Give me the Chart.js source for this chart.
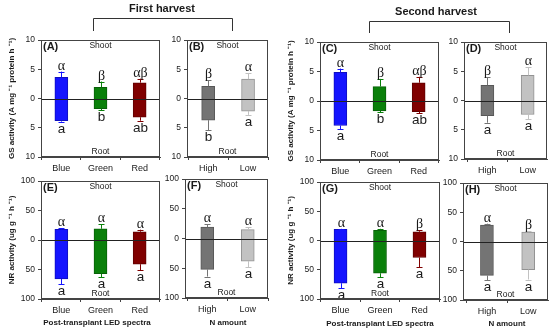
<!DOCTYPE html>
<html><head><meta charset="utf-8">
<script src="https://cdn.jsdelivr.net/npm/chart.js@4/dist/chart.umd.min.js"></script>
<style>
html,body{margin:0;padding:0;background:#fff;}
#wrap{position:relative;width:550px;height:331px;overflow:hidden;background:#fff;}
#wrap canvas{position:absolute;left:0;top:0;}
</style></head><body>
<div id="wrap"></div>
<script>
// ---------- data ----------
const ledCategories = ['Blue', 'Green', 'Red'];
const nCategories = ['High', 'Low'];
const ledColors = ['#1414ff', '#0a800a', '#800000'];
const nColors = ['#747474', '#c2c2c2'];

const gsTicks = [-10, -5, 0, 5, 10];
const nrTicks = [-100, -50, 0, 50, 100];

// (A) GS, first harvest, LED spectra
const gsFirstLedShoot = [3.6, 1.9, 2.7];
const gsFirstLedShootErr = [1.0, 1.0, 0.7];
const gsFirstLedRoot = [3.8, 1.75, 3.2];
const gsFirstLedRootErr = [0.15, 0.25, 0.6];
const gsFirstLedGreek = ['α', 'β', 'αβ'];
const gsFirstLedLatin = ['a', 'b', 'ab'];

// (B) GS, first harvest, N amount
const gsFirstNShoot = [2.1, 3.3];
const gsFirstNShootErr = [1.0, 1.0];
const gsFirstNRoot = [3.7, 2.15];
const gsFirstNRootErr = [1.7, 0.65];
const gsFirstNGreek = ['β', 'α'];
const gsFirstNLatin = ['b', 'a'];

// (C) GS, second harvest, LED spectra
const gsSecondLedShoot = [4.85, 2.45, 3.1];
const gsSecondLedShootErr = [0.65, 1.3, 1.0];
const gsSecondLedRoot = [4.15, 1.7, 1.8];
const gsSecondLedRootErr = [0.6, 0.2, 0.3];
const gsSecondLedGreek = ['α', 'β', 'αβ'];
const gsSecondLedLatin = ['a', 'b', 'ab'];

// (D) GS, second harvest, N amount
const gsSecondNShoot = [2.6, 4.3];
const gsSecondNShootErr = [1.4, 1.4];
const gsSecondNRoot = [2.6, 2.4];
const gsSecondNRootErr = [1.2, 0.8];
const gsSecondNGreek = ['β', 'α'];
const gsSecondNLatin = ['a', 'a'];

// (E) NR, first harvest, LED spectra
const nrFirstLedShoot = [18, 19, 14];
const nrFirstLedShootErr = [2, 8, 3.5];
const nrFirstLedRoot = [66, 57, 41];
const nrFirstLedRootErr = [9, 6, 10];
const nrFirstLedGreek = ['α', 'α', 'α'];
const nrFirstLedLatin = ['a', 'a', 'a'];

// (F) NR, first harvest, N amount
const nrFirstNShoot = [19, 15];
const nrFirstNShootErr = [5, 3.5];
const nrFirstNRoot = [52, 38];
const nrFirstNRootErr = [12, 10];
const nrFirstNGreek = ['α', 'α'];
const nrFirstNLatin = ['a', 'a'];

// (G) NR, second harvest, LED spectra
const nrSecondLedShoot = [19, 17.5, 15];
const nrSecondLedShootErr = [1, 2.5, 2.5];
const nrSecondLedRoot = [73, 56, 29];
const nrSecondLedRootErr = [9, 7, 17];
const nrSecondLedGreek = ['α', 'α', 'β'];
const nrSecondLedLatin = ['a', 'a', 'a'];

// (H) NR, second harvest, N amount
const nrSecondNShoot = [28, 16];
const nrSecondNShootErr = [2.5, 2];
const nrSecondNRoot = [58, 48];
const nrSecondNRootErr = [8, 17];
const nrSecondNGreek = ['α', 'β'];
const nrSecondNLatin = ['a', 'a'];

const gsTitle = 'GS activity (A mg \u207B\u00B9 protein h \u207B\u00B9)';
const nrTitle = 'NR activity (ug g \u207B\u00B9 h \u207B\u00B9)';
const ledAxisTitle = 'Post-transplant LED spectra';
const nAxisTitle = 'N amount';

// ---------- layout ----------
const SANS = '"Liberation Sans", Arial, Helvetica, sans-serif';
const SERIF = '"Liberation Serif", "Times New Roman", serif';

const panels = [
  {label:'(A)', cats:ledCategories, colors:ledColors, shoot:gsFirstLedShoot, shootErr:gsFirstLedShootErr, root:gsFirstLedRoot, rootErr:gsFirstLedRootErr, greek:gsFirstLedGreek, latin:gsFirstLedLatin, ticks:gsTicks,
   box:{l:41,r:160,t:40,b:157}, xr:[0.48,3.52], yTitle:gsTitle, yTitleX:12,
   header:{text:'First harvest', x:162, y:8.5, bl:93, br:232, bt:18, bb:31}},
  {label:'(B)', cats:nCategories, colors:nColors, shoot:gsFirstNShoot, shootErr:gsFirstNShootErr, root:gsFirstNRoot, rootErr:gsFirstNRootErr, greek:gsFirstNGreek, latin:gsFirstNLatin, ticks:gsTicks,
   box:{l:187,r:268,t:40,b:157}, xr:[0.47,2.5]},
  {label:'(C)', cats:ledCategories, colors:ledColors, shoot:gsSecondLedShoot, shootErr:gsSecondLedShootErr, root:gsSecondLedRoot, rootErr:gsSecondLedRootErr, greek:gsSecondLedGreek, latin:gsSecondLedLatin, ticks:gsTicks,
   box:{l:320,r:439,t:42,b:160}, xr:[0.48,3.52], yTitle:gsTitle, yTitleX:291,
   header:{text:'Second harvest', x:436, y:12, bl:369, br:509, bt:21, bb:33}},
  {label:'(D)', cats:nCategories, colors:nColors, shoot:gsSecondNShoot, shootErr:gsSecondNShootErr, root:gsSecondNRoot, rootErr:gsSecondNRootErr, greek:gsSecondNGreek, latin:gsSecondNLatin, ticks:gsTicks,
   box:{l:464,r:547,t:42,b:159}, xr:[0.42,2.48]},
  {label:'(E)', cats:ledCategories, colors:ledColors, shoot:nrFirstLedShoot, shootErr:nrFirstLedShootErr, root:nrFirstLedRoot, rootErr:nrFirstLedRootErr, greek:nrFirstLedGreek, latin:nrFirstLedLatin, ticks:nrTicks,
   box:{l:41,r:160,t:181,b:299}, xr:[0.48,3.52], yTitle:nrTitle, yTitleX:12, xTitle:ledAxisTitle, xTitleX:97, xTitleY:323},
  {label:'(F)', cats:nCategories, colors:nColors, shoot:nrFirstNShoot, shootErr:nrFirstNShootErr, root:nrFirstNRoot, rootErr:nrFirstNRootErr, greek:nrFirstNGreek, latin:nrFirstNLatin, ticks:nrTicks,
   box:{l:185,r:268,t:179,b:298}, xr:[0.45,2.5], xTitle:nAxisTitle, xTitleX:228, xTitleY:323},
  {label:'(G)', cats:ledCategories, colors:ledColors, shoot:nrSecondLedShoot, shootErr:nrSecondLedShootErr, root:nrSecondLedRoot, rootErr:nrSecondLedRootErr, greek:nrSecondLedGreek, latin:nrSecondLedLatin, ticks:nrTicks,
   box:{l:320,r:440,t:182,b:299}, xr:[0.48,3.52], yTitle:nrTitle, yTitleX:291, xTitle:ledAxisTitle, xTitleX:380, xTitleY:324},
  {label:'(H)', cats:nCategories, colors:nColors, shoot:nrSecondNShoot, shootErr:nrSecondNShootErr, root:nrSecondNRoot, rootErr:nrSecondNRootErr, greek:nrSecondNGreek, latin:nrSecondNLatin, ticks:nrTicks,
   box:{l:463,r:548,t:183,b:300}, xr:[0.42,2.48], xTitle:nAxisTitle, xTitleX:507, xTitleY:324}
];

const wrap = document.getElementById('wrap');
const W = 550, H = 331;
const YW = 30, XH = 17;

function darker(hex, f){
  const n = parseInt(hex.slice(1),16);
  const r = Math.round(((n>>16)&255)*f), g = Math.round(((n>>8)&255)*f), b = Math.round((n&255)*f);
  return 'rgb('+r+','+g+','+b+')';
}

function makePanel(p){
  const cv = document.createElement('canvas');
  cv.width = W; cv.height = H;
  cv.style.width = W+'px'; cv.style.height = H+'px';
  wrap.appendChild(cv);
  const yMax = p.ticks[p.ticks.length-1];
  const data = p.cats.map((c,i)=>({x:i+1, y:[-p.root[i], p.shoot[i]]}));

  const annot = {
    id:'annot'+p.label,
    afterDatasetsDraw(chart){
      const ctx = chart.ctx, a = chart.chartArea;
      const xs = chart.scales.x, ys = chart.scales.y;
      ctx.save();
      // zero line
      const y0 = Math.round(ys.getPixelForValue(0)) + 0.5;
      ctx.strokeStyle = '#222'; ctx.lineWidth = 1;
      ctx.beginPath(); ctx.moveTo(a.left, y0); ctx.lineTo(a.right, y0); ctx.stroke();
      // error bars
      p.cats.forEach((c,i)=>{
        const x = Math.round(xs.getPixelForValue(i+1)) + 0.5;
        const col = p.colors[i];
        ctx.strokeStyle = col; ctx.lineWidth = 1;
        const yt0 = ys.getPixelForValue(p.shoot[i]);
        const yt1 = ys.getPixelForValue(p.shoot[i] + p.shootErr[i]);
        const yb0 = ys.getPixelForValue(-p.root[i]);
        const yb1 = ys.getPixelForValue(-p.root[i] - p.rootErr[i]);
        ctx.beginPath();
        ctx.moveTo(x, yt0); ctx.lineTo(x, yt1);
        ctx.moveTo(x-3, Math.round(yt1)+0.5); ctx.lineTo(x+3, Math.round(yt1)+0.5);
        ctx.moveTo(x, yb0); ctx.lineTo(x, yb1);
        ctx.moveTo(x-3, Math.round(yb1)+0.5); ctx.lineTo(x+3, Math.round(yb1)+0.5);
        ctx.stroke();
        // letters
        ctx.fillStyle = '#1a1a1a';
        ctx.textAlign = 'center';
        ctx.textBaseline = 'alphabetic';
        ctx.font = '14px ' + SERIF;
        ctx.fillText(p.greek[i], x, yt1 - 2);
        ctx.font = '13.5px ' + SANS;
        ctx.fillText(p.latin[i], x, yb1 + 11);
      });
      // frame
      ctx.strokeStyle = '#444'; ctx.lineWidth = 1;
      ctx.strokeRect(a.left + 0.5, a.top + 0.5, a.right - a.left - 1, a.bottom - a.top - 1);
      // Shoot / Root
      const cx = (a.left + a.right) / 2;
      ctx.fillStyle = '#1a1a1a';
      ctx.font = '8.5px ' + SANS;
      ctx.textAlign = 'center'; ctx.textBaseline = 'middle';
      ctx.fillText('Shoot', cx, a.top + 5.5);
      ctx.fillText('Root', cx, a.bottom - 5.5);
      // panel label
      ctx.font = 'bold 11px ' + SANS;
      ctx.textAlign = 'left';
      ctx.fillText(p.label, a.left + 2, a.top + 7);
      // y title
      if (p.yTitle){
        ctx.save();
        ctx.translate(p.yTitleX, (a.top + a.bottom) / 2);
        ctx.rotate(-Math.PI/2);
        ctx.font = 'bold 8px ' + SANS;
        ctx.textAlign = 'center'; ctx.textBaseline = 'middle';
        ctx.fillText(p.yTitle, 0, 0);
        ctx.restore();
      }
      // x title
      if (p.xTitle){
        ctx.font = 'bold 8px ' + SANS;
        ctx.textAlign = 'center'; ctx.textBaseline = 'middle';
        ctx.fillText(p.xTitle, p.xTitleX, p.xTitleY);
      }
      // header + bracket
      if (p.header){
        const h = p.header;
        ctx.font = 'bold 11px ' + SANS;
        ctx.textAlign = 'center'; ctx.textBaseline = 'middle';
        ctx.fillText(h.text, h.x, h.y);
        ctx.strokeStyle = '#333';
        ctx.beginPath();
        ctx.moveTo(h.bl + 0.5, h.bb); ctx.lineTo(h.bl + 0.5, h.bt + 0.5);
        ctx.lineTo(h.br + 0.5, h.bt + 0.5); ctx.lineTo(h.br + 0.5, h.bb);
        ctx.stroke();
      }
      ctx.restore();
    }
  };

  new Chart(cv, {
    type: 'bar',
    data: {
      datasets: [{
        data: data,
        backgroundColor: p.colors,
        borderColor: p.colors.map(c=>darker(c, 0.75)),
        borderWidth: 1,
        borderSkipped: false,
        barThickness: 13
      }]
    },
    options: {
      responsive: false,
      animation: false,
      devicePixelRatio: 1,
      layout: { padding: { left: p.box.l - YW, right: W - p.box.r, top: p.box.t, bottom: H - p.box.b - XH } },
      plugins: { legend: {display:false}, tooltip: {enabled:false}, title: {display:false} },
      scales: {
        x: {
          type: 'linear', min: p.xr[0], max: p.xr[1], offset: false,
          afterBuildTicks: s => { s.ticks = p.cats.map((c,i)=>({value:i+1})); },
          afterFit: s => { s.height = XH; },
          ticks: { callback: v => p.cats[Math.round(v)-1] || '', color:'#1a1a1a', font:{family:SANS, size:9}, padding:3, maxRotation:0, autoSkip:false },
          grid: { drawOnChartArea:false, drawTicks:true, tickLength:3, color:'#444' },
          border: { display:true, color:'#444' }
        },
        y: {
          min: -yMax, max: yMax,
          afterBuildTicks: s => { s.ticks = p.ticks.map(v=>({value:v})); },
          afterFit: s => { s.width = YW; },
          ticks: { callback: v => String(Math.abs(v)), color:'#1a1a1a', font:{family:SANS, size:8.5}, padding:3 },
          grid: { drawOnChartArea:false, drawTicks:true, tickLength:3, color:'#444' },
          border: { display:true, color:'#444' }
        }
      }
    },
    plugins: [annot]
  });
}
panels.forEach(makePanel);
</script>
</body></html>
